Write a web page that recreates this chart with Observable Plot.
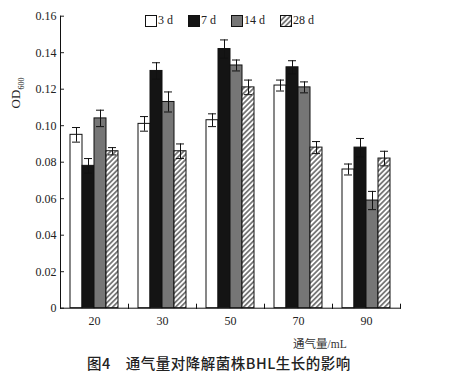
<!DOCTYPE html>
<html><head><meta charset="utf-8">
<script src="https://cdn.jsdelivr.net/npm/d3@7"></script>
<script src="https://cdn.jsdelivr.net/npm/@observablehq/plot@0.6"></script>
<style>
body{margin:0;background:#fff;}
#wrap{position:relative;width:461px;height:375px;background:#fff;overflow:hidden;}
#chart{position:absolute;left:0;top:0;}
#legend{position:absolute;left:145px;top:13px;display:flex;gap:15px;align-items:center;font:12px 'Liberation Serif',serif;color:#222;}
#legend .item{display:flex;align-items:center;gap:1px;}
#ylabel{position:absolute;left:17px;top:93px;transform:translate(-50%,-50%) rotate(-90deg);white-space:nowrap;font:13px 'Liberation Serif',serif;color:#222;}
#ylabel sub{font-size:8px;}
#xlabel{position:absolute;left:293px;top:335px;line-height:12px;white-space:nowrap;font:11.5px 'Liberation Serif','Noto Sans CJK SC',serif;color:#333;}
#caption{position:absolute;left:87px;top:352px;line-height:16px;white-space:nowrap;letter-spacing:0.5px;font:500 14.5px 'Noto Sans CJK SC',sans-serif;color:#222;}
</style></head>
<body>
<div id="wrap">
  <div id="chart"></div>
  <div id="legend"></div>
  <div id="ylabel">OD<sub>600</sub></div>
  <div id="xlabel">通气量/mL</div>
  <div id="caption">图4　通气量对降解菌株BHL生长的影响</div>
</div>
<script>
const groups = ["20", "30", "50", "70", "90"];
const series = ["3 d", "7 d", "14 d", "28 d"];
const values3d  = [0.095, 0.101, 0.103, 0.122, 0.076];
const values7d  = [0.078, 0.130, 0.142, 0.132, 0.088];
const values14d = [0.104, 0.113, 0.133, 0.121, 0.059];
const values28d = [0.086, 0.086, 0.121, 0.088, 0.082];
const err3d  = [0.004, 0.004, 0.0035, 0.003, 0.003];
const err7d  = [0.004, 0.0045, 0.005, 0.0036, 0.005];
const err14d = [0.0045, 0.0055, 0.003, 0.003, 0.005];
const err28d = [0.002, 0.004, 0.004, 0.0033, 0.004];
const yTicks = [0, 0.02, 0.04, 0.06, 0.08, 0.10, 0.12, 0.14, 0.16];
const fills = ["#ffffff", "#141414", "#767676", "url(#hatch)"];

const allValues = [values3d, values7d, values14d, values28d];
const allErrors = [err3d, err7d, err14d, err28d];
const data = [];
series.forEach((s, i) => groups.forEach((g, j) => data.push({group: g, series: s, value: allValues[i][j], err: allErrors[i][j]})));

const plot = Plot.plot({
  width: 461, height: 330,
  marginLeft: 59, marginRight: 61, marginTop: 15.7, marginBottom: 22.3,
  style: {fontFamily: "'Liberation Serif', serif", fontSize: "12px", background: "white", color: "#222"},
  fx: {domain: groups, padding: 0, label: null, axis: "bottom", tickSize: 0, tickPadding: 8},
  x: {domain: series, paddingInner: 0, paddingOuter: 0.8, axis: null},
  y: {domain: [0, 0.16], ticks: yTicks, tickFormat: d => d === 0 ? "0" : d.toFixed(2), label: null, tickSize: -4, tickPadding: 8},
  color: {domain: series, range: fills},
  marks: [
    Plot.barY(data, {fx: "group", x: "series", y: "value", fill: "series", stroke: "#111", strokeWidth: 1, inset: 0}),
    Plot.ruleX(data, {fx: "group", x: "series", y1: d => d.value - d.err, y2: d => d.value + d.err, stroke: "#111"}),
    Plot.tickY(data, {fx: "group", x: "series", y: d => d.value + d.err, stroke: "#111", inset: 2}),
    Plot.tickY(data, {fx: "group", x: "series", y: d => d.value - d.err, stroke: "#111", inset: 2}),
    Plot.frame({anchor: "bottom", stroke: "#111"}),
    Plot.frame({anchor: "right", insetTop: 288, stroke: "#111"}),
    Plot.frame({anchor: "left", facetAnchor: "left", stroke: "#111"})
  ]
});

const svg = d3.select(plot);
const defs = svg.insert("defs", ":first-child");
const pat = defs.append("pattern").attr("id", "hatch").attr("patternUnits", "userSpaceOnUse")
  .attr("width", 3.6).attr("height", 3.6).attr("patternTransform", "rotate(45)");
pat.append("rect").attr("width", 3.6).attr("height", 3.6).attr("fill", "#fff");
pat.append("line").attr("x1", 0.9).attr("y1", 0).attr("x2", 0.9).attr("y2", 3.6).attr("stroke", "#222").attr("stroke-width", 1.1);
document.getElementById("chart").appendChild(plot);

const legend = d3.select("#legend");
series.forEach((s, i) => {
  const item = legend.append("div").attr("class", "item");
  const sw = item.append("svg").attr("width", 12).attr("height", 12);
  sw.append("rect").attr("x", 0.5).attr("y", 0.5).attr("width", 11).attr("height", 11)
    .attr("fill", fills[i]).attr("stroke", "#111");
  item.append("span").text(s);
});
</script>
</body></html>
